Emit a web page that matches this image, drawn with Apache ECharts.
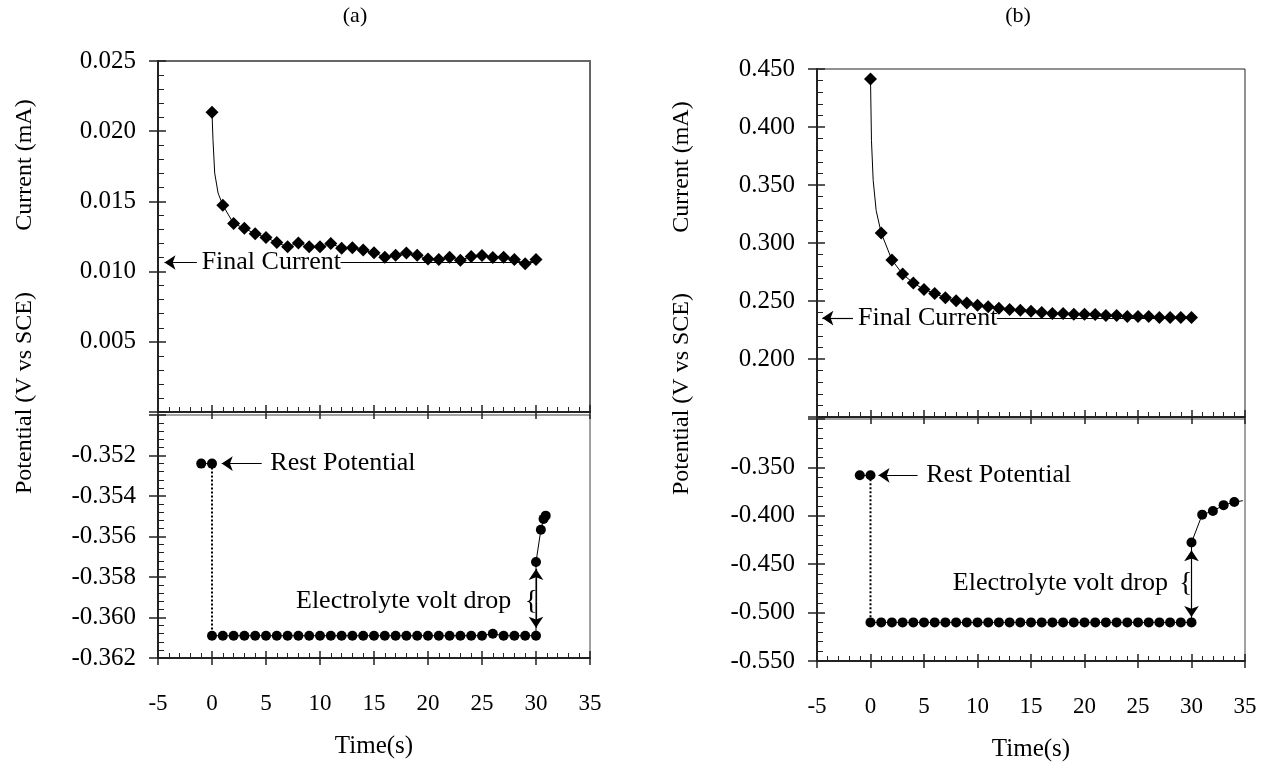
<!DOCTYPE html>
<html><head><meta charset="utf-8">
<script src="https://cdn.jsdelivr.net/npm/echarts@6/dist/echarts.min.js"></script>
<style>html,body{margin:0;padding:0;background:#fff}#c{width:1264px;height:773px}</style>
</head><body><div id="c"></div>
<script>
// ---------- DATA ----------
const timeTicks = ['-5','0','5','10','15','20','25','30','35'];
const curTicksA = ['0.005','0.010','0.015','0.020','0.025'];
const potTicksA = ['-0.352','-0.354','-0.356','-0.358','-0.360','-0.362'];
const curTicksB = ['0.200','0.250','0.300','0.350','0.400','0.450'];
const potTicksB = ['-0.350','-0.400','-0.450','-0.500','-0.550'];

const sampleTimes = [0,1,2,3,4,5,6,7,8,9,10,11,12,13,14,15,16,17,18,19,20,21,22,23,24,25,26,27,28,29,30];

// panel (a) current
const curA = [0.02135,0.01473,0.01342,0.01309,0.01269,0.01243,0.01207,0.01177,0.01203,0.01177,0.01177,0.01201,0.01167,0.01170,0.01153,0.01134,0.01103,0.01117,0.01132,0.01117,0.01089,0.01087,0.01103,0.01080,0.01108,0.01115,0.01101,0.01103,0.01087,0.01056,0.01087];
const earlyTimeA = [0.09,0.25,0.56];
const earlyCurA = [0.01939,0.01702,0.01560];
const finalCurA = 0.01065;

// panel (b) current
const curB = [0.4414,0.3087,0.2854,0.2732,0.2655,0.2600,0.2565,0.2528,0.2502,0.2482,0.2464,0.2450,0.2438,0.2427,0.2421,0.2412,0.2401,0.2392,0.2392,0.2386,0.2386,0.2383,0.2375,0.2375,0.2366,0.2366,0.2366,0.2358,0.2358,0.2358,0.2358];
const earlyTimeB = [0.09,0.25,0.53];
const earlyCurB = [0.3886,0.3540,0.3280];
const finalCurB = 0.2353;

// panel (a) potential
const restTimes = [-1,0];
const restPotA = [-0.3524,-0.3524];
const stepPotA = [-0.3609,-0.3609,-0.3609,-0.3609,-0.3609,-0.3609,-0.3609,-0.3609,-0.3609,-0.3609,-0.3609,-0.3609,-0.3609,-0.3609,-0.3609,-0.3609,-0.3609,-0.3609,-0.3609,-0.3609,-0.3609,-0.3609,-0.3609,-0.3609,-0.3609,-0.3609,-0.3608,-0.3609,-0.3609,-0.3609,-0.3609];
const riseTimeA = [30,30.45,30.7,30.9];
const risePotA = [-0.35726,-0.35567,-0.35513,-0.35497];

// panel (b) potential
const restPotB = [-0.3582,-0.3582];
const stepPotB = [-0.5101,-0.5101,-0.5101,-0.5101,-0.5101,-0.5101,-0.5101,-0.5101,-0.5101,-0.5101,-0.5101,-0.5101,-0.5101,-0.5101,-0.5101,-0.5101,-0.5101,-0.5101,-0.5101,-0.5101,-0.5101,-0.5101,-0.5101,-0.5101,-0.5101,-0.5101,-0.5101,-0.5101,-0.5101,-0.5101,-0.5101];
const riseTimeB = [30,31,32,33,34];
const risePotB = [-0.4276,-0.3988,-0.3951,-0.3890,-0.3858];
const traceEndTimeB = [34.8];
const traceEndPotB = [-0.3844];

// annotation anchors (data coords)
const electroA = {text:-0.3592, up:-0.3576, down:-0.3605};
const electroB = {text:-0.4696, up:-0.4356, down:-0.5046};

// ---------- BUILD ----------
const FONT = 'Liberation Serif';
const zip = (xs, ys) => xs.map((x, i) => [x, ys[i]]);
const mkFmt = list => v => { const s = v.toFixed(3); return list.includes(s) ? s : ''; };
const mkXFmt = list => v => { const s = String(Math.round(v)); return list.includes(s) ? s : ''; };

const grids = [
  {left:158, top:61, width:432, height:351, show:true, borderColor:'#666', borderWidth:2},
  {left:158, top:415, width:432, height:243, show:true, borderColor:'#444', borderWidth:1},
  {left:817, top:69, width:428, height:348, show:true, borderColor:'#222', borderWidth:1},
  {left:817, top:419, width:428, height:242, show:true, borderColor:'#444', borderWidth:1}
].map(g => Object.assign(g, {outerBoundsMode:'none', containLabel:false, backgroundColor:'transparent'}));

const xAxes = [], yAxes = [];
function addX(g, showLabel) {
  xAxes.push({
    gridIndex:g, type:'value', position:'bottom', min:-5, max:35, interval:5,
    axisLine:{show:true, onZero:false, lineStyle:{color:'#222', width:2}},
    axisTick:{show:true, inside:true, length:7, lineStyle:{color:'#222', width:1.5}},
    minorTick:{show:true, splitNumber:5, length:5, lineStyle:{color:'#222', width:1}},
    axisLabel:{show:showLabel, margin:34, color:'#000', fontFamily:FONT, fontSize:23, formatter:mkXFmt(timeTicks)},
    splitLine:{show:false}, minorSplitLine:{show:false},
    name: showLabel ? 'Time(s)' : '', nameLocation:'middle', nameGap:76,
    nameTextStyle:{color:'#000', fontFamily:FONT, fontSize:25}
  });
  xAxes.push({
    gridIndex:g, type:'value', position:'bottom', min:-5, max:35, interval:5,
    axisLine:{show:false, onZero:false},
    axisTick:{show:true, inside:false, length:7, lineStyle:{color:'#222', width:1.5}},
    axisLabel:{show:false}, splitLine:{show:false}
  });
}
function addY(g, min, max, interval, list) {
  yAxes.push({
    gridIndex:g, type:'value', position:'left', min, max, interval,
    axisLine:{show:true, onZero:false, lineStyle:{color:'#222', width:2}},
    axisTick:{show:true, inside:true, length:8, lineStyle:{color:'#222', width:1.5}},
    minorTick:{show:true, splitNumber:5, length:6, lineStyle:{color:'#222', width:1}},
    axisLabel:{show:true, margin:22, color:'#000', fontFamily:FONT, fontSize:25, formatter:mkFmt(list)},
    splitLine:{show:false}, minorSplitLine:{show:false}
  });
  yAxes.push({
    gridIndex:g, type:'value', position:'left', min, max, interval,
    axisLine:{show:false, onZero:false},
    axisTick:{show:true, inside:false, length:9, lineStyle:{color:'#222', width:1.5}},
    axisLabel:{show:false}, splitLine:{show:false}
  });
}
addX(0,false); addX(1,true); addX(2,false); addX(3,true);
addY(0, 0, 0.025, 0.005, curTicksA);
addY(1, -0.362, -0.350, 0.002, potTicksA);
addY(2, 0.15, 0.45, 0.05, curTicksB);
addY(3, -0.55, -0.30, 0.05, potTicksB);

const lblStyle = {color:'#000', fontFamily:FONT, fontSize:26};
function markLines(items) {
  return {
    silent:true, animation:false, symbolSize:10,
    label:{show:false}, emphasis:{disabled:true},
    lineStyle:{color:'#000', width:1.2, type:'solid'},
    data: items.map(it => [
      {coord:it[0], symbol:'none'},
      {coord:it[1], symbol: it[2] ? 'arrow' : 'none', symbolSize: 11}
    ])
  };
}
function markTexts(items) {
  return {
    silent:true, animation:false, symbol:'circle', symbolSize:0,
    itemStyle:{color:'transparent'},
    data: items.map(it => ({
      coord: it.coord, value: 0,
      label:Object.assign({show:true, formatter: it.text, position: it.pos, distance: 0}, lblStyle, it.style || {})
    }))
  };
}

function lineData(times, vals, extraT, extraV) {
  return zip(times.concat(extraT), vals.concat(extraV)).sort((p, q) => p[0] - q[0]);
}
const black = {color:'#000', opacity:1};

const series = [
  // ---- (a) current ----
  {type:'line', xAxisIndex:0, yAxisIndex:0, data: lineData(sampleTimes, curA, earlyTimeA, earlyCurA),
   symbol:'none', lineStyle:{color:'#000', width:1}, silent:true, z:2},
  {type:'scatter', xAxisIndex:0, yAxisIndex:0, data: zip(sampleTimes, curA), symbol:'diamond', symbolSize:13,
   itemStyle:black, z:3,
   markLine: markLines([
     [[-1.4, finalCurA], [-4.4, finalCurA], true],
     [[11.9, finalCurA], [30, finalCurA], false]
   ]),
   markPoint: markTexts([{coord:[-0.96, finalCurA], text:'Final Current', pos:'right'}])
  },
  // ---- (a) potential ----
  {type:'line', xAxisIndex:2, yAxisIndex:2, data: zip(restTimes, restPotA), symbol:'circle', symbolSize:10,
   itemStyle:black, lineStyle:{color:'#000', width:1}, z:3,
   markLine: markLines([
     [[4.6, restPotA[1]], [0.9, restPotA[1]], true],
     [[30, electroA.text], [30, electroA.up], true],
     [[30, electroA.text], [30, electroA.down], true]
   ]),
   markPoint: markTexts([
     {coord:[5.4, restPotA[1]], text:'Rest Potential', pos:'right'},
     {coord:[27.7, electroA.text], text:'Electrolyte volt drop', pos:'left'},
     {coord:[29.55, electroA.text], text:'{', pos:'inside', style:{fontSize:28}}
   ])
  },
  {type:'line', xAxisIndex:2, yAxisIndex:2, data: [[restTimes[1], restPotA[1]], [sampleTimes[0], stepPotA[0]]],
   symbol:'none', lineStyle:{color:'#000', width:2, type:[2,2]}, z:2},
  {type:'line', xAxisIndex:2, yAxisIndex:2, data: zip(sampleTimes.concat(riseTimeA), stepPotA.concat(risePotA)),
   symbol:'circle', symbolSize:10, itemStyle:black, lineStyle:{color:'#000', width:1}, z:3},
  // ---- (b) current ----
  {type:'line', xAxisIndex:4, yAxisIndex:4, data: lineData(sampleTimes, curB, earlyTimeB, earlyCurB),
   symbol:'none', lineStyle:{color:'#000', width:1}, silent:true, z:2},
  {type:'scatter', xAxisIndex:4, yAxisIndex:4, data: zip(sampleTimes, curB), symbol:'diamond', symbolSize:13,
   itemStyle:black, z:3,
   markLine: markLines([
     [[-1.64, finalCurB], [-4.5, finalCurB], true],
     [[11.8, finalCurB], [30, finalCurB], false]
   ]),
   markPoint: markTexts([{coord:[-1.17, finalCurB], text:'Final Current', pos:'right'}])
  },
  // ---- (b) potential ----
  {type:'line', xAxisIndex:6, yAxisIndex:6, data: zip(restTimes, restPotB), symbol:'circle', symbolSize:10,
   itemStyle:black, lineStyle:{color:'#000', width:1}, z:3,
   markLine: markLines([
     [[4.4, restPotB[1]], [0.75, restPotB[1]], true],
     [[30, electroB.text], [30, electroB.up], true],
     [[30, electroB.text], [30, electroB.down], true]
   ]),
   markPoint: markTexts([
     {coord:[5.2, restPotB[1]], text:'Rest Potential', pos:'right'},
     {coord:[27.8, electroB.text], text:'Electrolyte volt drop', pos:'left'},
     {coord:[29.45, electroB.text], text:'{', pos:'inside', style:{fontSize:28}}
   ])
  },
  {type:'line', xAxisIndex:6, yAxisIndex:6, data: [[restTimes[1], restPotB[1]], [sampleTimes[0], stepPotB[0]]],
   symbol:'none', lineStyle:{color:'#000', width:2, type:[2,2]}, z:2},
  {type:'line', xAxisIndex:6, yAxisIndex:6, data: zip(sampleTimes.concat(riseTimeB), stepPotB.concat(risePotB)),
   symbol:'circle', symbolSize:10, itemStyle:black, lineStyle:{color:'#000', width:1}, z:3},
  {type:'line', xAxisIndex:6, yAxisIndex:6, data: [[riseTimeB[riseTimeB.length-1], risePotB[risePotB.length-1]], [traceEndTimeB[0], traceEndPotB[0]]],
   symbol:'none', lineStyle:{color:'#000', width:1}, z:2}
];

const txt = (x, y, s, size, rot) => ({
  type:'text', x, y, rotation: rot || 0,
  style:{text:s, fill:'#000', font: size + 'px "' + FONT + '"', textAlign:'center', textVerticalAlign:'middle'}
});
const graphic = [
  txt(355, 16, '(a)', 22),
  txt(1018, 16, '(b)', 22),
  txt(25, 165, 'Current (mA)', 24, Math.PI/2),
  txt(25, 393, 'Potential (V vs SCE)', 24, Math.PI/2),
  txt(682, 167, 'Current (mA)', 24, Math.PI/2),
  txt(682, 394, 'Potential (V vs SCE)', 24, Math.PI/2)
];

const chart = echarts.init(document.getElementById('c'), null, {renderer:'canvas'});
chart.setOption({
  animation:false, backgroundColor:'#fff',
  grid: grids, xAxis: xAxes, yAxis: yAxes, series, graphic
});
</script></body></html>
